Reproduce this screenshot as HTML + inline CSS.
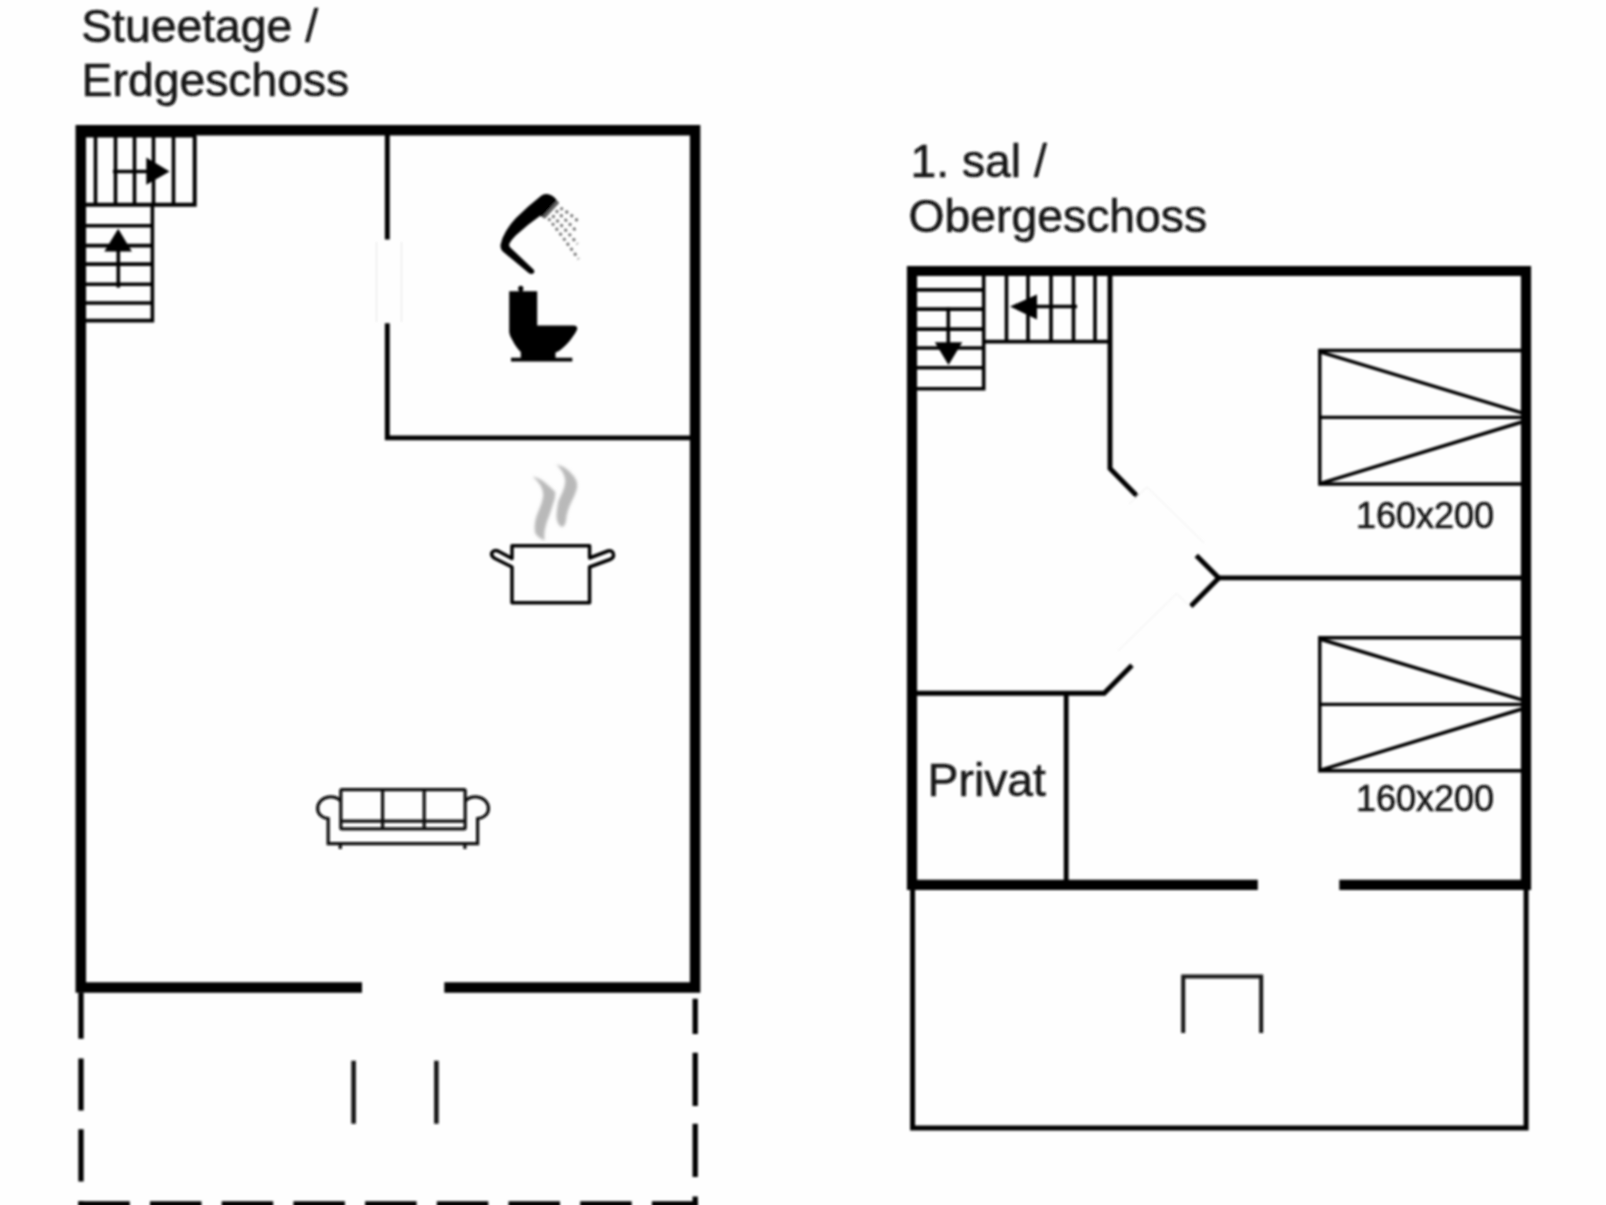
<!DOCTYPE html>
<html>
<head>
<meta charset="utf-8">
<style>
html,body{margin:0;padding:0;background:#fefefe;}
body{width:1606px;height:1205px;overflow:hidden;}
svg{display:block;}
text{font-family:"Liberation Sans",sans-serif;fill:#141414;stroke:#141414;stroke-width:0.55px;}
</style>
</head>
<body>
<svg width="1606" height="1205" viewBox="0 0 1606 1205">
<defs>
<filter id="soft" x="-2%" y="-2%" width="104%" height="104%"><feGaussianBlur stdDeviation="0.8"/></filter>
</defs>
<rect x="0" y="0" width="1606" height="1205" fill="#fefefe"/>
<g filter="url(#soft)">
<!-- ===== Titles ===== -->
<text x="81.2" y="42" font-size="46.3">Stueetage /</text>
<text x="81.6" y="96" font-size="46.3">Erdgeschoss</text>
<text x="910.5" y="176.6" font-size="46.3">1. sal /</text>
<text x="908.6" y="232" font-size="46.3">Obergeschoss</text>

<!-- ===== Ground floor ===== -->
<g id="gf" fill="none" stroke="#000">
  <!-- outer walls -->
  <path d="M362 987.6 H80.8 V130.2 H695.1 V987.6 H444.3" stroke-width="10.5" stroke-linejoin="miter"/>
  <!-- interior wall bathroom -->
  <path d="M387.3 135 V239.5 M387.3 323.3 V437.9 H690" stroke-width="4.9"/>
  <!-- stairs horizontal part -->
  <g stroke-width="3.6">
    <path d="M86 204.8 H194.7 V136" stroke-width="4"/>
    <path d="M86 136.2 H196" stroke-width="2.5"/>
    <path d="M95.5 136 V205 M115.5 136 V205 M134.5 136 V205 M153.5 136 V205 M173.5 136 V205"/>
    <path d="M152.4 205 V320.6 H86"/>
    <path d="M86 225.7 H152.4 M86 245.6 H152.4 M86 264.1 H152.4 M86 284.2 H152.4 M86 303 H152.4"/>
    <path d="M113 171.5 H150"/>
    <path d="M118.3 251 V287.6"/>
  </g>
  <path d="M146.3 157.5 L169.6 171.4 L146.3 184.8 Z" fill="#000" stroke="none"/>
  <path d="M104.3 251.6 L118.2 228.8 L131.9 251.6 Z" fill="#000" stroke="none"/>
  <!-- dashed terrace -->
  <path d="M81 992.5 V1205" stroke-width="5.3" stroke-dasharray="46.3 19.6 52.2 18.7 52.3 19.6 10"/>
  <path d="M695.2 998.7 V1205" stroke-width="5.3" stroke-dasharray="35.4 18.7 53.2 17.7 53.2 19.6 20"/>
  <path d="M78.3 1204 H697.9" stroke-width="5.6" stroke-dasharray="51.5 20.2"/>
  <path d="M353.6 1060.8 V1123.8 M436.4 1060.8 V1123.8" stroke-width="4.6" stroke="#151515"/>
</g>
<!-- door in bathroom wall -->
<g stroke="#e6e6e6" stroke-width="1" fill="none">
  <path d="M376.5 242 V322 M401.5 242 V322"/>
</g>

<!-- faint door outlines upper floor -->
<g stroke="#ececec" stroke-width="1" fill="none">
  <path d="M1129 504 L1147 487 L1204 543"/>
  <path d="M1187.5 604.5 L1176.7 593.4 L1118 651"/>
</g>
<!-- ===== Upper floor ===== -->
<g id="uf" fill="none" stroke="#000">
  <path d="M1257.8 884.9 H912 V271 H1526 V884.9 H1339.3" stroke-width="10.2"/>
  <!-- lower thin outline -->
  <path d="M912.6 889 V1128 H1526.1 V889" stroke-width="5"/>
  <path d="M1183.2 1033 V976.6 H1261.2 V1033" stroke-width="4" stroke="#151515"/>
  <!-- interior walls -->
  <g stroke-width="4.9">
    <path d="M1110 276 V468.5 L1137 496"/>
    <path d="M1196.3 555.6 L1218.8 577.9 L1190.8 606.2"/>
    <path d="M1218.8 577.9 H1522"/>
    <path d="M1132 665.2 L1104.2 693.2 H917"/>
  </g>
  <path d="M1066.2 693 V881" stroke-width="4.8"/>
  <!-- stairs -->
  <g stroke-width="3.6">
    <path d="M917 388.7 H983.7 V276"/>
    <path d="M917 289.9 H983.7 M917 309.1 H983.7 M917 329.1 H983.7 M917 348 H983.7 M917 367.8 H983.7"/>
    <path d="M983.7 341.6 H1110"/>
    <path d="M1006.5 276 V341 M1028 276 V341 M1051 276 V341 M1073.5 276 V341 M1095 276 V341"/>
    <path d="M1034 306.5 H1077"/>
    <path d="M948.3 307.5 V344"/>
  </g>
  <path d="M1037 294.5 L1010 306.5 L1037 319.5 Z" fill="#000" stroke="none"/>
  <path d="M934.8 342.2 L962.3 342.2 L948.5 365 Z" fill="#000" stroke="none"/>
  <!-- beds -->
  <g stroke-width="3.4">
    <path d="M1522 350.5 H1319.8 V484 H1522 M1319.8 417.4 H1522"/>
    <path d="M1319.8 351.8 L1522 412.8 M1319.8 483.6 L1522 422"/>
    <path d="M1522 637.7 H1319.8 V770.7 H1522 M1319.8 704.4 H1522"/>
    <path d="M1319.8 639 L1522 699.8 M1319.8 770.3 L1522 709"/>
  </g>
</g>
<text x="1356" y="527.8" font-size="36">160x200</text>
<text x="1356" y="810.8" font-size="36">160x200</text>
<text x="927.6" y="795.5" font-size="46.3">Privat</text>

<!-- ===== Icons ===== -->
<!-- shower -->
<g id="shower">
  <path d="M541.5 195.4 Q545 193.6 548.5 194.3 Q552 195 554.5 197.5 L559 203 L544.8 218.4 L540.3 215.8 L528.2 224.8 L515.7 235.6 Q511.5 240 509.8 243 Q508.3 245.5 510.3 247.5 L533.5 269.5 Q535.2 271.6 533.5 273.2 Q531.5 274.6 529 273.2 L502.5 251.3 Q500 248.5 500.6 244.5 Q501.6 238.5 505.8 231.5 Q510 224 515.7 218.2 L528.2 206.6 Z" fill="#000"/>
  <path d="M559 203 L544.8 218.4 L542.5 216.6 L556.9 200.6 Z" fill="#666"/>
  <g stroke="#6e6e6e" stroke-width="2.8" stroke-dasharray="2.8 3.4" stroke-linecap="butt" fill="none">
    <path d="M560.5 208 Q569 213 578.5 221.5"/>
    <path d="M556 210.5 Q566 220 577 232"/>
    <path d="M552.5 215.5 Q565 229 577.5 244"/>
    <path d="M548.5 218.5 Q563 237 578.5 259"/>
  </g>
</g>
<!-- toilet -->
<g id="toilet" fill="#000">
  <circle cx="520.8" cy="288.4" r="2.6"/><rect x="519" y="288.4" width="3.6" height="3.5"/>
  <path d="M509.2 291.2 H537.2 V325.6 H573.4 Q577.8 325.8 577.2 329.3 Q575.5 333.5 572.7 336.8 Q570 341 566.7 344.2 Q563.5 347.5 560 350.2 Q558 351.6 555.5 352.4 V357.7 H572.3 V361.4 H511 V357.7 H520.8 V352 Q518.5 349.7 516.7 347.2 Q514 343.5 512.2 339.7 Q509.6 336 509.2 332.3 Z"/>
</g>
<!-- pot -->
<g id="pot" fill="none" stroke="#000" stroke-width="3.5" stroke-linejoin="round">
  <path d="M512 558.5 V545.7 H589.6 V558 L608 551 Q613 550 613.5 554.5 Q614 558 610 559.5 L589.6 567 V602.7 H512 V567 L495 558.5 Q490.5 556 492 552.5 Q494 549.5 498 551 Z"/>
</g>
<g id="steam" fill="#b9b9b9" filter="url(#soft)">
  <path d="M532.5 476.5 Q540 478 546 483.5 Q552 488.5 555.3 492 Q555.5 498 553 504 Q551.5 509 549.5 515 Q546 523 544.8 530 Q544 535 544.6 540.5 Q538 538 535.2 533 Q534 526 535.8 518.5 Q537.5 513 539.6 508.5 Q542.5 502 543.2 496 Q543.5 490 540.5 485.5 Q537.5 480.5 532.5 476.5 Z"/>
  <path d="M556.3 464.3 Q563 466 568.5 470.5 Q574 475.5 576.3 480.5 Q577.8 485 576.6 489.5 Q575 495 572.3 500 Q569.5 505.5 567.8 511 Q566 516.5 566 521 Q565.5 525 562.5 527 Q559.5 526.5 558 523 Q556.2 519 556.6 514.5 Q557 507 558.4 501.3 Q560.5 496.5 562.6 492 Q565 486.5 565.4 481 Q565 476 562.5 472 Q560 468 556.3 464.3 Z"/>
</g>
<!-- sofa -->
<g id="sofa" fill="none" stroke="#111" stroke-width="3.2">
  <rect x="340.8" y="789.6" width="124.4" height="39.2" rx="1"/>
  <path d="M382.6 789.6 V828.8 M424.2 789.6 V828.8 M340.8 821.1 H465.2"/>
  <path d="M340.8 801.2 C338 797.8 333.8 796.6 329.6 796.9 C322.6 797.4 317.6 802.5 317.6 808.5 C317.6 814 322 818 328.2 818.7 V843.7 H477.6 V818.7 C484 818 488.5 814 488.5 808.5 C488.5 802.5 483.5 797.4 476.5 796.9 C472.3 796.6 468 797.8 465.2 801.2"/>
  <path d="M340.3 844 V849 M464.9 844 V849"/>
</g>
</g>
</svg>
</body>
</html>
